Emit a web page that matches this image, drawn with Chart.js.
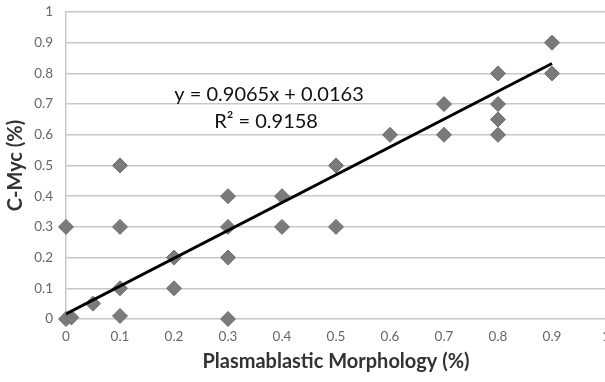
<!DOCTYPE html>
<html>
<head>
<meta charset="utf-8">
<script src="https://cdn.jsdelivr.net/npm/chart.js@4"></script>
<style>
  html, body { margin: 0; padding: 0; background: #fff; overflow: hidden; }
  #wrap { width: 615px; height: 382px; }
</style>
</head>
<body>
<div id="wrap"><canvas id="chart" width="615" height="382"></canvas></div>
<script>
// Plasmablastic morphology (x) vs C-Myc (y)
const morphology = [0, 0.01, 0.05, 0, 0.1, 0.1, 0.1, 0.1, 0.2, 0.2, 0.3, 0.3, 0.3, 0.3, 0.4, 0.4, 0.5, 0.5, 0.6, 0.7, 0.7, 0.8, 0.8, 0.8, 0.8, 0.9, 0.9];
const cMyc       = [0, 0.005, 0.05, 0.3, 0.5, 0.3, 0.1, 0.01, 0.2, 0.1, 0.4, 0.3, 0.2, 0, 0.4, 0.3, 0.5, 0.3, 0.6, 0.7, 0.6, 0.8, 0.7, 0.65, 0.6, 0.9, 0.8];

// linear trend line endpoints (y = 0.9065x + 0.0163)
const trendX = [0, 0.9];
const trendY = [0.0163, 0.8322];

const eqLines = ['y = 0.9065x + 0.0163', 'R\u00b2 = 0.9158'];

const xTicks = [0, 0.1, 0.2, 0.3, 0.4, 0.5, 0.6, 0.7, 0.8, 0.9, 1];
const yTicks = [0, 0.1, 0.2, 0.3, 0.4, 0.5, 0.6, 0.7, 0.8, 0.9, 1];

const points = morphology.map((x, i) => ({ x: x, y: cMyc[i] }));
const trend = trendX.map((x, i) => ({ x: x, y: trendY[i] }));

// draw the equation text in data coordinates
const equationPlugin = {
  id: 'equation',
  afterDatasetsDraw(chart) {
    const { ctx, scales } = chart;
    const cx = scales.x.getPixelForValue(0.376);
    ctx.save();
    ctx.fillStyle = '#111';
    ctx.font = '20px Lato';
    ctx.textAlign = 'center';
    ctx.textBaseline = 'middle';
    ctx.fillText(eqLines[0], cx, scales.y.getPixelForValue(0.73));
    ctx.fillText(eqLines[1], cx - 3, scales.y.getPixelForValue(0.642));
    ctx.restore();
  }
};

new Chart(document.getElementById('chart'), {
  type: 'scatter',
  data: {
    datasets: [
      {
        label: 'data',
        data: points,
        pointStyle: 'rectRot',
        pointRadius: 7.5,
        pointHoverRadius: 7.5,
        backgroundColor: '#7a7a7a',
        borderColor: '#6e6e6e',
        borderWidth: 1,
        clip: false,
        order: 2
      },
      {
        label: 'trend',
        type: 'line',
        data: trend,
        borderColor: '#000',
        borderWidth: 3,
        pointRadius: 0,
        fill: false,
        order: 1
      }
    ]
  },
  plugins: [equationPlugin],
  options: {
    responsive: false,
    animation: false,
    layout: { autoPadding: false, padding: { top: 12, right: 9, left: 0, bottom: 0 } },
    plugins: { legend: { display: false }, tooltip: { enabled: false } },
    scales: {
      x: {
        type: 'linear',
        min: 0,
        max: 1,
        afterBuildTicks(axis) { axis.ticks = xTicks.map(v => ({ value: v })); },
        afterFit(axis) {
          axis.height = 63;
          axis.paddingLeft = 0;
          axis.paddingRight = 0;
        },
        grid: { display: false, drawTicks: false },
        border: { display: false },
        ticks: {
          color: '#666',
          font: { family: 'Lato', size: 13.5 },
          padding: 10,
          maxRotation: 0,
          callback: v => String(v)
        },
        title: {
          display: true,
          text: 'Plasmablastic Morphology (%)',
          color: '#333',
          font: { family: 'Lato', size: 20, weight: 'bold' },
          padding: { top: 0, bottom: 8 }
        }
      },
      y: {
        min: 0,
        max: 1,
        afterBuildTicks(axis) { axis.ticks = yTicks.map(v => ({ value: v })); },
        afterFit(axis) {
          axis.width = 66;
          axis.paddingTop = 0;
          axis.paddingBottom = 0;
        },
        grid: { color: '#c8c8c8', lineWidth: 1.5, drawTicks: false },
        border: { display: true, color: '#c8c8c8', width: 1.5 },
        ticks: {
          color: '#666',
          font: { family: 'Lato', size: 13.5 },
          padding: 13,
          callback: v => String(v)
        },
        title: {
          display: true,
          text: 'C-Myc (%)',
          color: '#333',
          font: { family: 'Lato', size: 20, weight: 'bold' },
          padding: { bottom: 0 }
        }
      }
    }
  }
});
</script>
</body>
</html>
